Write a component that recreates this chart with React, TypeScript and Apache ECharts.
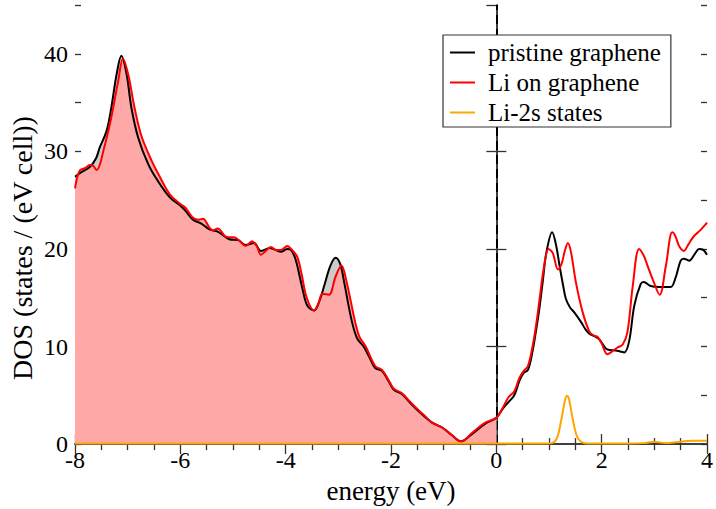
import { useEffect, useRef } from "react";
import * as echarts from "echarts";

// energy (eV) and DOS values
const pristineE = [
  -8.0, -7.9, -7.72, -7.6, -7.53, -7.4, -7.31, -7.21, -7.12, -7.02, -6.93, -6.8, -6.61, -6.43, -6.2,
  -5.95, -5.76, -5.6, -5.45, -5.3, -5.07, -4.9, -4.76, -4.6, -4.47, -4.3, -4.09, -3.97, -3.9, -3.81,
  -3.68, -3.59, -3.46, -3.35, -3.27, -3.15, -3.05, -2.96, -2.89, -2.74, -2.64, -2.52, -2.4, -2.3,
  -2.17, -2.05, -1.95, -1.79, -1.65, -1.54, -1.38, -1.22, -1.03, -0.84, -0.67, -0.47, -0.21, 0.0,
  0.12, 0.23, 0.34, 0.44, 0.52, 0.6, 0.68, 0.75, 0.82, 0.88, 0.95, 1.06, 1.13, 1.2, 1.27, 1.32, 1.4,
  1.48, 1.61, 1.7, 1.77, 1.89, 1.96, 2.05, 2.11, 2.27, 2.35, 2.43, 2.52, 2.62, 2.74, 2.8, 2.93, 3.1,
  3.31, 3.4, 3.5, 3.56, 3.66, 3.77, 3.85, 3.93, 4.0,
];
const pristineDos = [
  27.4, 27.8, 28.4, 29.3, 30.4, 32.1, 34.5, 37.9, 39.8, 37.9, 34.5, 31.4, 28.7, 27.0, 25.3,
  24.2, 23.0, 22.6, 22.0, 21.8, 21.0, 20.9, 20.4, 20.6, 19.8, 20.1, 19.7, 20.0, 19.9, 18.9,
  15.9, 14.2, 13.7, 14.8, 16.2, 18.3, 19.1, 18.4, 16.6, 12.5, 10.8, 10.0, 8.8, 7.8,
  7.5, 6.5, 5.6, 5.1, 4.3, 3.7, 2.9, 2.2, 1.7, 0.9, 0.27, 1.0, 2.1, 2.7,
  3.6, 4.3, 5.0, 6.5, 7.3, 7.6, 9.3, 11.5, 14.0, 16.6, 19.6, 21.7, 20.5, 18.3, 16.2, 14.9, 14.0,
  13.5, 12.5, 11.7, 11.3, 11.0, 10.7, 10.0, 9.7, 9.6, 9.5, 9.4, 10.5, 14.2, 16.4, 16.6, 16.2, 16.1,
  16.1, 17.0, 18.8, 19.0, 18.8, 19.5, 20.0, 19.9, 19.4,
];

const liE = [
  -8.0, -7.95, -7.9, -7.8, -7.72, -7.65, -7.59, -7.53, -7.46, -7.38, -7.31, -7.18, -7.09, -6.99,
  -6.87, -6.74, -6.55, -6.4, -6.2, -6.0, -5.9, -5.76, -5.65, -5.57, -5.45, -5.38, -5.29, -5.15,
  -5.07, -4.98, -4.87, -4.76, -4.64, -4.55, -4.47, -4.38, -4.28, -4.18, -4.09, -3.97, -3.88, -3.78,
  -3.7, -3.6, -3.46, -3.38, -3.3, -3.18, -3.05, -2.94, -2.85, -2.68, -2.6, -2.48, -2.3, -2.17,
  -2.05, -1.95, -1.79, -1.65, -1.54, -1.38, -1.22, -1.03, -0.84, -0.67, -0.47, -0.21, 0.0,
  0.12, 0.23, 0.34, 0.44, 0.52, 0.6, 0.68, 0.75, 0.82, 0.9, 0.99, 1.07, 1.17, 1.24, 1.3, 1.36,
  1.42, 1.51, 1.64, 1.77, 1.86, 1.92, 2.0, 2.11, 2.2, 2.3, 2.4, 2.49, 2.59, 2.71, 2.8, 2.87, 2.99,
  3.1, 3.22, 3.34, 3.4, 3.47, 3.56, 3.65, 3.75, 3.87, 3.97, 4.0,
];
const liDos = [
  26.2, 27.5, 28.1, 28.3, 28.6, 28.5, 28.1, 28.6, 30.1, 31.8, 33.5, 37.2, 39.5, 37.9,
  34.5, 31.6, 29.1, 27.5, 25.6, 24.6, 24.2, 23.2, 23.0, 23.1, 22.2, 21.9, 22.1, 21.3,
  21.2, 21.2, 20.8, 20.3, 20.8, 20.3, 19.4, 19.8, 20.2, 19.9, 19.9, 20.3, 19.9, 19.2,
  17.5, 15.0, 13.7, 14.4, 15.4, 15.3, 17.2, 18.3, 16.8, 12.5, 11.0, 10.0, 8.0, 7.6,
  6.6, 5.7, 5.2, 4.4, 3.8, 3.0, 2.2, 1.7, 0.9, 0.25, 1.1, 2.2, 2.7,
  3.7, 4.8, 5.4, 6.8, 7.5, 8.0, 9.8, 12.0, 14.8, 18.0, 20.0, 19.6, 17.9, 18.5, 19.8, 20.6,
  19.6, 16.6, 13.5, 11.5, 11.1, 11.0, 10.3, 9.2, 9.5, 9.9, 10.2, 11.5, 16.2, 20.0, 19.3, 18.3, 16.6,
  15.3, 18.3, 21.7, 21.3, 20.3, 19.8, 20.5, 21.3, 21.9, 22.5, 22.7,
];

const li2sE = [
  -8.0, 0.9, 1.05, 1.15, 1.23, 1.3, 1.34, 1.38, 1.45, 1.53, 1.62, 1.75, 2.5, 2.8, 3.0, 3.2, 3.5,
  3.7, 4.0,
];
const li2sDos = [
  0.05, 0.05, 0.1, 0.6, 2.4, 4.4, 4.95, 4.6, 2.6, 0.8, 0.2, 0.05, 0.05, 0.1, 0.25, 0.1, 0.25,
  0.35, 0.35,
];

const seriesNames = ["pristine graphene", "Li on graphene", "Li-2s states"];
const seriesColors = ["#000000", "#ff0000", "#ffa500"];
const fillColors = ["#cbcbcb", "#ffa8a8"];
const xMin = -8;
const xMax = 4;
const yMin = 0;
const yMax = 45;
const fermiEnergy = 0;
const xTitle = "energy (eV)";
const yTitle = "DOS (states / (eV cell))";

const FONT = "'Liberation Serif', 'Times New Roman', serif";

function pairs(e: number[], d: number[]) {
  return e.map((x, i) => [x, d[i]]);
}
function occupied(e: number[], d: number[]) {
  return pairs(e, d).filter((p) => p[0] <= fermiEnergy);
}

export default function App() {
  const ref = useRef<HTMLDivElement>(null);
  useEffect(() => {
    if (!ref.current) return;
    const chart = echarts.init(ref.current, undefined, { renderer: "svg" });
    const axisLine = { show: true, lineStyle: { color: "#333", width: 1.5 } };
    const label = { fontFamily: FONT, fontSize: 24, color: "#000" };
    const xBase = {
      type: "value",
      min: xMin,
      max: xMax,
      interval: 2,
      axisLine,
      axisTick: { show: true, inside: true, length: 10, lineStyle: { color: "#333", width: 1.3 } },
      minorTick: { show: true, splitNumber: 4, length: 6, lineStyle: { color: "#333", width: 1.3 } },
      splitLine: { show: false },
      minorSplitLine: { show: false },
    };
    const yMajor = {
      type: "value",
      min: yMin,
      max: yMax,
      interval: 10,
      axisLine,
      axisTick: { show: true, inside: true, length: 10, lineStyle: { color: "#333", width: 1.3 } },
      splitLine: { show: false },
    };
    const yMinor = {
      type: "value",
      min: yMin,
      max: yMax,
      interval: 5,
      axisLine: { show: false },
      axisLabel: { show: false },
      axisTick: { show: true, inside: true, length: 6, lineStyle: { color: "#333", width: 1.3 } },
      splitLine: { show: false },
    };
    const option: any = {
      animation: false,
      grid: { left: 75, right: 7, top: 5, bottom: 62, containLabel: false },
      xAxis: [
        {
          ...xBase,
          position: "bottom",
          axisLabel: { ...label, margin: 4 },
          name: xTitle,
          nameLocation: "middle",
          nameGap: 28,
          nameTextStyle: { fontFamily: FONT, fontSize: 27, color: "#000" },
        },
        { ...xBase, position: "top", axisLabel: { show: false } },
      ],
      yAxis: [
        {
          ...yMajor,
          position: "left",
          axisLabel: { ...label, margin: 7, showMaxLabel: false },
        },
        { ...yMajor, position: "right", axisLabel: { show: false } },
        { ...yMinor, position: "left" },
        { ...yMinor, position: "right" },
      ],
      legend: {
        orient: "vertical",
        left: 443,
        top: 35,
        z: 20,
        padding: [5, 10, 2, 7],
        itemGap: 5,
        itemWidth: 25,
        itemHeight: 2,
        icon: "rect",
        borderColor: "#333",
        borderWidth: 1.2,
        backgroundColor: "#fff",
        data: seriesNames,
        textStyle: { fontFamily: FONT, fontSize: 25, color: "#000", lineHeight: 25, padding: [0, 0, 0, 8] },
      },
      graphic: [
        {
          type: "text",
          x: 22,
          y: 248,
          rotation: Math.PI / 2,
          style: {
            text: yTitle,
            fontFamily: FONT,
            fontSize: 28,
            fill: "#000",
            textAlign: "center",
            textVerticalAlign: "middle",
          },
        },
      ],
      series: [
        {
          name: "pristine fill",
          type: "line",
          data: occupied(pristineE, pristineDos),
          smooth: 0.35,
          symbol: "none",
          lineStyle: { width: 0 },
          areaStyle: { color: fillColors[0], opacity: 1 },
          silent: true,
        },
        {
          name: "Li fill",
          type: "line",
          data: occupied(liE, liDos),
          smooth: 0.35,
          symbol: "none",
          lineStyle: { width: 0 },
          areaStyle: { color: fillColors[1], opacity: 1 },
          silent: true,
        },
        {
          name: seriesNames[0],
          type: "line",
          data: pairs(pristineE, pristineDos),
          smooth: 0.35,
          symbol: "none",
          color: seriesColors[0],
          lineStyle: { width: 2, color: seriesColors[0] },
        },
        {
          name: seriesNames[1],
          type: "line",
          data: pairs(liE, liDos),
          smooth: 0.35,
          symbol: "none",
          color: seriesColors[1],
          lineStyle: { width: 2, color: seriesColors[1] },
        },
        {
          name: seriesNames[2],
          type: "line",
          data: pairs(li2sE, li2sDos),
          smooth: 0.35,
          symbol: "none",
          color: seriesColors[2],
          lineStyle: { width: 2, color: seriesColors[2] },
          markLine: {
            silent: true,
            z: 3,
            symbol: ["none", "none"],
            label: { show: false },
            lineStyle: { color: "#000", type: [9, 5], width: 2 },
            data: [{ xAxis: fermiEnergy }],
          },
        },
      ],
    };
    chart.setOption(option);
    return () => chart.dispose();
  }, []);
  return (
    <div
      ref={ref}
      style={{ position: "fixed", left: 0, top: 0, width: 716, height: 509, background: "#fff" }}
    />
  );
}
